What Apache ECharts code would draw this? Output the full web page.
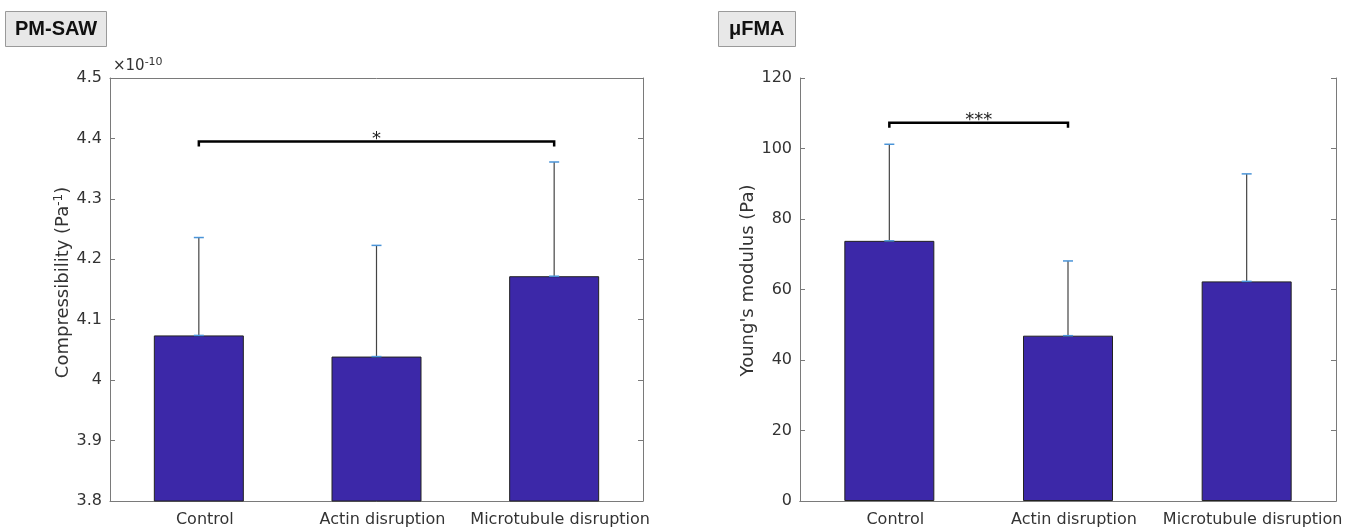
<!DOCTYPE html>
<html><head><meta charset="utf-8">
<script src="https://cdn.jsdelivr.net/npm/echarts@6/dist/echarts.min.js"></script>
<style>html,body{margin:0;padding:0;background:#fff}#c{width:1352px;height:528px}</style>
</head><body><div id="c"></div>
<script>
// ---- data ----
const categories = ['Control', 'Actin disruption', 'Microtubule disruption'];
// PM-SAW compressibility, in units of 1e-10 Pa^-1
const compMean = [4.074, 4.039, 4.172];
const compUpper = [4.236, 4.223, 4.361];
const compTicks = [3.8, 4.5, 0.1]; // min, max, interval
const compSig = [[0, 2, 4.395, '*']];
// uFMA Young's modulus (Pa)
const ymMean = [73.8, 46.9, 62.3];
const ymUpper = [101.2, 68.1, 92.8];
const ymTicks = [0, 120, 20];
const ymSig = [[0, 1, 107.3, '***']];

const FONT = 'DejaVu Sans';
const AX = '#7a7a7a';
const TXT = '#333333';
const BAR = '#3c28a8';
const CAP = '#4a94d8';

function errData(mean, upper) { return mean.map((m, i) => [i, m, upper[i]]); }

function errSeries(xi, yi, mean, upper) {
  return {
    type: 'custom', xAxisIndex: xi, yAxisIndex: yi, z: 5,
    data: errData(mean, upper),
    renderItem: function (params, api) {
      const x = api.value(0);
      const p0 = api.coord([x, api.value(1)]);
      const p1 = api.coord([x, api.value(2)]);
      const hw = 5;
      return {
        type: 'group', children: [
          { type: 'line', shape: { x1: p0[0], y1: p0[1], x2: p1[0], y2: p1[1] }, style: { stroke: '#444', lineWidth: 1.2 } },
          { type: 'line', shape: { x1: p1[0] - hw, y1: p1[1], x2: p1[0] + hw, y2: p1[1] }, style: { stroke: CAP, lineWidth: 1.5 } },
          { type: 'line', shape: { x1: p0[0] - hw, y1: p0[1], x2: p0[0] + hw, y2: p0[1] }, style: { stroke: CAP, lineWidth: 1.5 } }
        ]
      };
    }
  };
}

function sigSeries(xi, yi, sig) {
  return {
    type: 'custom', xAxisIndex: xi, yAxisIndex: yi, z: 6,
    data: sig.map(s => [s[0], s[1], s[2]]),
    renderItem: function (params, api) {
      const a = api.coord([api.value(0), api.value(2)]);
      const b = api.coord([api.value(1), api.value(2)]);
      const label = sig[params.dataIndex][3];
      return {
        type: 'group', children: [
          { type: 'polyline', shape: { points: [[a[0], a[1] + 5], [a[0], a[1]], [b[0], a[1]], [b[0], a[1] + 5]] }, style: { stroke: '#000', lineWidth: 2.5, fill: null } },
          { type: 'text', style: { x: (a[0] + b[0]) / 2, y: a[1] + 7, text: label, fill: '#222', font: '18px ' + FONT, textAlign: 'center', textVerticalAlign: 'bottom' } }
        ]
      };
    }
  };
}

function xAxes(gi) {
  return [
    { type: 'category', gridIndex: gi, data: categories, position: 'bottom',
      axisLine: { lineStyle: { color: AX, width: 1 } },
      axisTick: { inside: true, alignWithLabel: true, length: 5, lineStyle: { color: AX } },
      axisLabel: { color: TXT, fontFamily: FONT, fontSize: 16, margin: 11, interval: 0, padding: [0, 0, 0, 12] } },
    { type: 'category', gridIndex: gi, data: categories, position: 'top',
      axisLine: { lineStyle: { color: AX, width: 1 } },
      axisTick: { inside: true, alignWithLabel: true, length: 5, lineStyle: { color: AX } },
      axisLabel: { show: false } }
  ];
}

function yAxes(gi, t, name, nameGap, shift) {
  return [
    { type: 'value', gridIndex: gi, min: t[0], max: t[1], interval: t[2], position: 'left',
      name: name, nameLocation: 'middle', nameRotate: 90, nameGap: nameGap,
      nameTextStyle: { color: TXT, fontFamily: FONT, fontSize: 18, padding: [0, 0, 0, shift],
        rich: { sup: { fontSize: 12, verticalAlign: 'top', color: TXT, fontFamily: FONT, padding: [0, 0, 9, 0] } } },
      splitLine: { show: false },
      axisLine: { show: true, lineStyle: { color: AX, width: 1 } },
      axisTick: { show: true, inside: true, length: 5, lineStyle: { color: AX } },
      axisLabel: { color: TXT, fontFamily: FONT, fontSize: 16, margin: 8 } },
    { type: 'value', gridIndex: gi, min: t[0], max: t[1], interval: t[2], position: 'right',
      splitLine: { show: false },
      axisLine: { show: true, lineStyle: { color: AX, width: 1 } },
      axisTick: { show: true, inside: true, length: 5, lineStyle: { color: AX } },
      axisLabel: { show: false } }
  ];
}

const chart = echarts.init(document.getElementById('c'), null, { renderer: 'canvas' });
chart.setOption({
  animation: false,
  backgroundColor: '#fff',
  title: [
    { text: 'PM-SAW', left: 5, top: 11, padding: [8, 10, 7, 10], backgroundColor: '#e8e8e8', borderColor: '#9a9a9a', borderWidth: 1,
      textStyle: { fontFamily: 'Liberation Sans', fontWeight: 'bold', fontSize: 20, lineHeight: 21, color: '#111' } },
    { text: 'μFMA', left: 718, top: 11, padding: [8, 11, 7, 11], backgroundColor: '#e8e8e8', borderColor: '#9a9a9a', borderWidth: 1,
      textStyle: { fontFamily: 'Liberation Sans', fontWeight: 'bold', fontSize: 20, lineHeight: 21, color: '#111' } }
  ],
  graphic: [
    { type: 'text', left: 113, top: 57, style: { text: '×10{s|-10}', fill: TXT, font: '15px ' + FONT,
      rich: { s: { fontSize: 11, fontFamily: FONT, fill: TXT, verticalAlign: 'top', padding: [0, 0, 8, 0] } } } }
  ],
  grid: [
    { left: 110, top: 78, width: 533, height: 424 },
    { left: 800, top: 78, width: 536, height: 424 }
  ],
  xAxis: [...xAxes(0), ...xAxes(1)],
  yAxis: [
    ...yAxes(0, compTicks, 'Compressibility (Pa{sup|-1})', 32, 14),
    ...yAxes(1, ymTicks, "Young's modulus (Pa)", 34, 18)
  ],
  series: [
    { type: 'bar', xAxisIndex: 0, yAxisIndex: 0, data: compMean, barWidth: 90,
      itemStyle: { color: BAR, borderColor: '#222', borderWidth: 1 } },
    errSeries(0, 0, compMean, compUpper),
    sigSeries(0, 0, compSig),
    { type: 'bar', xAxisIndex: 2, yAxisIndex: 2, data: ymMean, barWidth: 90,
      itemStyle: { color: BAR, borderColor: '#222', borderWidth: 1 } },
    errSeries(2, 2, ymMean, ymUpper),
    sigSeries(2, 2, ymSig)
  ]
});
</script>
</body></html>
